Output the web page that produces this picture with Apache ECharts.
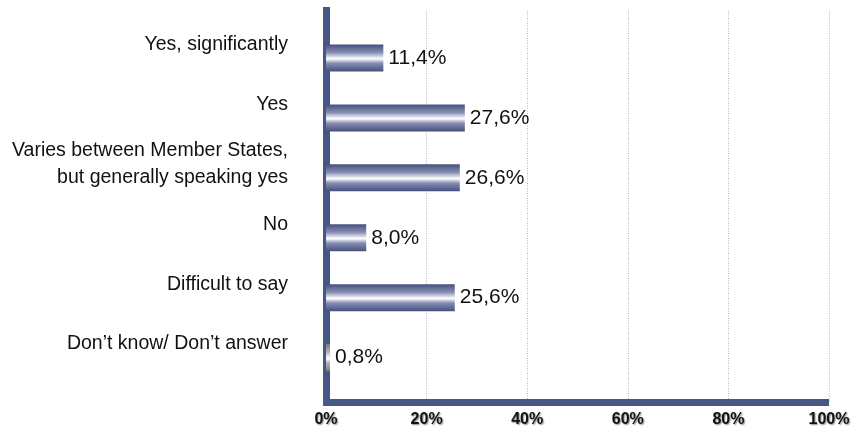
<!DOCTYPE html>
<html>
<head>
<meta charset="utf-8">
<style>
  html, body { margin: 0; padding: 0; background: #ffffff; }
  #chart { width: 856px; height: 430px; }
</style>
<script src="https://cdn.jsdelivr.net/npm/echarts@6/dist/echarts.min.js"></script>
</head>
<body>
<div id="chart"></div>
<script>
// Survey answers (top to bottom) and their shares in percent
const categories = [
  'Yes, significantly',
  'Yes',
  'Varies between Member States,\nbut generally speaking yes',
  'No',
  'Difficult to say',
  'Don’t know/ Don’t answer'
];
const shares = [11.4, 27.6, 26.6, 8.0, 25.6, 0.8];
const percentTicks = [0, 20, 40, 60, 80, 100];

// the "no answer" bar is painted in grey instead of blue
const greyCategory = 'Don’t know/ Don’t answer';

const FONT = "'Liberation Sans', Arial, sans-serif";
const AXIS_BLUE = '#475785';

function tubeGradient(edge, mid) {
  return new echarts.graphic.LinearGradient(0, 0, 0, 1, [
    { offset: 0, color: edge },
    { offset: 0.3, color: mid },
    { offset: 0.53, color: '#ffffff' },
    { offset: 0.7, color: mid },
    { offset: 1, color: edge }
  ]);
}
const blueTube = tubeGradient('#46507c', '#858db2');
const greyTube = tubeGradient('#7a7a7a', '#b4b4b4');

const fmtPct = v => v.toFixed(1).replace('.', ',') + '%';

const chart = echarts.init(document.getElementById('chart'), null, { renderer: 'canvas' });

chart.setOption({
  animation: false,
  backgroundColor: '#ffffff',
  grid: [
    // frame: axis lines, grid lines and percent ticks
    { left: 326, right: 27, top: 10.5, bottom: 27.5 },
    // bars and category labels
    { left: 326, right: 27, top: 28, bottom: 42.5 }
  ],
  xAxis: [
    {
      gridIndex: 0,
      type: 'value',
      min: percentTicks[0],
      max: percentTicks[percentTicks.length - 1],
      interval: percentTicks[1] - percentTicks[0],
      axisLine: { show: true, lineStyle: { color: AXIS_BLUE, width: 7, cap: 'butt' } },
      axisTick: { show: false },
      splitLine: {
        show: true,
        showMinLine: false,
        lineStyle: { color: '#b2b6cc', type: [1, 1.5], width: 1 }
      },
      axisLabel: {
        margin: 9,
        formatter: '{value}%',
        fontFamily: FONT,
        fontSize: 16,
        fontWeight: 'bold',
        color: '#111111',
        textShadowColor: 'rgba(0,0,0,0.45)',
        textShadowBlur: 1.5,
        textShadowOffsetX: 1,
        textShadowOffsetY: 1
      }
    },
    {
      gridIndex: 1,
      type: 'value',
      min: percentTicks[0],
      max: percentTicks[percentTicks.length - 1],
      show: false
    }
  ],
  yAxis: [
    {
      gridIndex: 0,
      type: 'value',
      min: 0,
      max: 1,
      offset: 3.5,
      axisLine: { show: true, lineStyle: { color: AXIS_BLUE, width: 7, cap: 'square' } },
      axisTick: { show: false },
      axisLabel: { show: false },
      splitLine: { show: false }
    },
    {
      gridIndex: 1,
      type: 'category',
      inverse: true,
      data: categories,
      axisLine: { show: false },
      axisTick: { show: false },
      splitLine: { show: false },
      axisLabel: {
        margin: 38,
        fontFamily: FONT,
        fontSize: 19.5,
        lineHeight: 27,
        color: '#111111',
        align: 'right',
        // a trailing empty line lifts each label above its bar
        formatter: v => v + '\n '
      }
    }
  ],
  series: [
    {
      type: 'bar',
      xAxisIndex: 1,
      yAxisIndex: 1,
      z: 5,
      barWidth: 27,
      data: shares.map((v, i) => ({
        value: v,
        itemStyle: { color: categories[i] === greyCategory ? greyTube : blueTube }
      })),
      label: {
        show: true,
        position: 'right',
        distance: 5,
        fontFamily: FONT,
        fontSize: 21,
        color: '#111111',
        formatter: p => fmtPct(p.value)
      }
    }
  ]
});
</script>
</body>
</html>
